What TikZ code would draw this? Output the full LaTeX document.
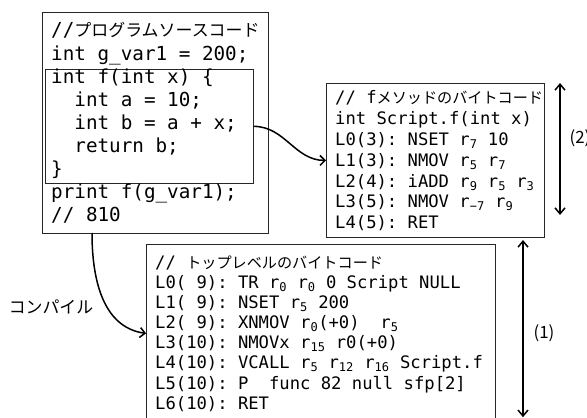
\documentclass[tikz,border=0pt]{standalone}
\usepackage{fontspec}
\setmonofont{DejaVu Sans Mono}
\newfontfamily\jp{Noto Sans CJK JP}[Scale=0.88]
\usetikzlibrary{arrows.meta}
\begin{document}
\begin{tikzpicture}[x=1pt,y=1pt,
  box/.style={draw=black!85, line width=0.8pt, rectangle, inner sep=0pt, anchor=north west},
  codeA/.style={font=\ttfamily\fontsize{19.27}{23.1}\selectfont, align=left, anchor=base west, inner sep=0pt},
  codeB/.style={font=\ttfamily\fontsize{17.2}{20.8}\selectfont, align=left, anchor=base west, inner sep=0pt},
  codeC/.style={font=\ttfamily\fontsize{17.2}{20.2}\selectfont, align=left, anchor=base west, inner sep=0pt},
  conn/.style={-{Straight Barb[length=5pt,width=10pt]}, line width=1.5pt},
  dim/.style={{Straight Barb[length=6pt,width=10pt]}-{Straight Barb[length=6pt,width=10pt]}, line width=1.5pt},
  lbl/.style={font=\jp\fontsize{19.2}{22}\selectfont, inner sep=0pt}
]
\useasboundingbox (0,0) rectangle (587,418);
\fill[white] (0,0) rectangle (587,418);

% boxes
\node[box, minimum width=226.3pt, minimum height=221pt] (src) at (41.7,406) {};
\node[box, minimum width=208pt, minimum height=114pt] (fbody) at (45,349) {};
\node[box, minimum width=218pt, minimum height=154pt] (fcode) at (326,335) {};
\node[box, minimum width=349pt, minimum height=186pt] (top) at (146,174) {};

% texts (anchor = baseline of the last line)
\node[codeA] (srctext) at (51,196.2) {//{\jp プログラムソースコード}\\
int g\_var1 = 200;\\
int f(int x) \{\\
\hphantom{xx}int a = 10;\\
\hphantom{xx}int b = a + x;\\
\hphantom{xx}return b;\\
\}\\
print f(g\_var1);\\
// 810};

\node[codeB] (ftext) at (335,189.2) {// f{\jp メソッドのバイトコード}\\
int Script.f(int x)\\
L0(3): NSET r\textsubscript{7} 10\\
L1(3): NMOV r\textsubscript{5} r\textsubscript{7}\\
L2(4): iADD r\textsubscript{9} r\textsubscript{5} r\textsubscript{3}\\
L3(5): NMOV r\textsubscript{−7} r\textsubscript{9}\\
L4(5): RET};

\node[codeC] (toptext) at (155,8.6) {// {\jp トップレベルのバイトコード}\\
L0( 9): TR r\textsubscript{0} r\textsubscript{0} 0 Script NULL\\
L1( 9): NSET r\textsubscript{5} 200\\
L2( 9): XNMOV r\textsubscript{0}(+0)\ \ r\textsubscript{5}\\
L3(10): NMOVx r\textsubscript{15} r0(+0)\\
L4(10): VCALL r\textsubscript{5} r\textsubscript{12} r\textsubscript{16} Script.f\\
L5(10): P\ \ func 82 null sfp[2]\\
L6(10): RET};

% connectors
\draw[conn] (fbody.east) to[out=0,in=180] (fcode.west);
\coordinate (c810) at (92,185);
\draw[conn] (c810) to[out=-90,in=172] ([yshift=4pt]top.west);
\node[lbl] (compile) at (51,111) {コンパイル};

% dimension arrows
\coordinate (d2a) at (560,335);
\coordinate (d2b) at (560,203);
\draw[dim] (d2a) -- (d2b);
\node[lbl] (l2) at (580,280) {(2)};
\coordinate (d1a) at (523,178);
\coordinate (d1b) at (523,0.8);
\draw[dim] (d1a) -- (d1b);
\node[lbl] (l1) at (544,85) {(1)};
\end{tikzpicture}
\end{document}
